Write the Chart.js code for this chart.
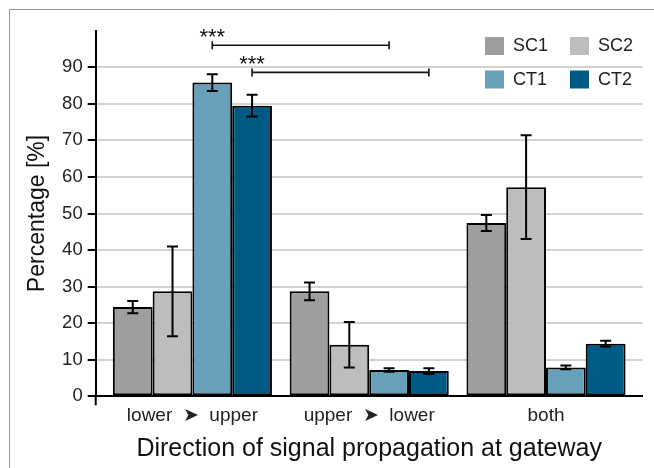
<!DOCTYPE html>
<html>
<head>
<meta charset="utf-8">
<script src="https://cdn.jsdelivr.net/npm/chart.js@4"></script>
<style>
  html, body { margin: 0; padding: 0; background: #fff; }
  #wrap { position: relative; width: 654px; height: 468px; }
</style>
</head>
<body>
<div id="wrap"><canvas id="chart" width="654" height="468"></canvas></div>
<script>
// Categories and series values (%)
const categories = ["lower  \u27A4  upper", "upper  \u27A4  lower", "both"];
const seriesNames = ["SC1", "SC2", "CT1", "CT2"];
const sc1 = [24.4, 28.7, 47.4];
const sc2 = [28.7, 14.1, 57.2];
const ct1 = [85.8, 7.2, 7.9];
const ct2 = [79.5, 6.9, 14.4];

// Error bars (half length, %)
const sc1Err = [1.7, 2.4, 2.2];
const sc2Err = [12.3, 6.2, 14.2];
const ct1Err = [2.3, 0.5, 0.5];
const ct2Err = [3.0, 0.8, 0.8];

// Y axis tick labels
const yTicks = [0, 10, 20, 30, 40, 50, 60, 70, 80, 90];

// Significance brackets: series, from category, to category, height (%)
const sigSeries = [2, 3];
const sigFrom = [0, 0];
const sigTo = [1, 1];
const sigHeights = [96.0, 88.6];
const sigLabels = ["***", "***"];

const colors = ["#9e9e9e", "#bdbdbd", "#67a0b8", "#005a86"];
const FONT = "'Liberation Sans', Arial, sans-serif";

const allValues = [sc1, sc2, ct1, ct2];
const allErrors = [sc1Err, sc2Err, ct1Err, ct2Err];

// Frame line around the figure, plus the short y axis stub below zero
const framePlugin = {
  id: "frame",
  beforeDraw(chart) {
    const ctx = chart.ctx;
    ctx.save();
    ctx.strokeStyle = "#9a9a9a";
    ctx.lineWidth = 1;
    ctx.beginPath();
    ctx.moveTo(9.5, 468);
    ctx.lineTo(9.5, 9.5);
    ctx.lineTo(654, 9.5);
    ctx.stroke();
    ctx.restore();
  },
  afterDraw(chart) {
    const ctx = chart.ctx;
    const a = chart.chartArea;
    ctx.save();
    ctx.strokeStyle = "#000";
    ctx.lineWidth = 2;
    ctx.beginPath();
    ctx.moveTo(a.left, a.bottom);
    ctx.lineTo(a.left, a.bottom + 9);
    ctx.stroke();
    ctx.restore();
  }
};

// Error bars
const errorBarPlugin = {
  id: "errorBars",
  afterDatasetsDraw(chart) {
    const ctx = chart.ctx;
    const y = chart.scales.y;
    ctx.save();
    ctx.strokeStyle = "#000";
    ctx.lineWidth = 2;
    chart.data.datasets.forEach((ds, i) => {
      const meta = chart.getDatasetMeta(i);
      meta.data.forEach((bar, j) => {
        const v = allValues[i][j];
        const e = allErrors[i][j];
        const top = y.getPixelForValue(v + e);
        const bot = y.getPixelForValue(v - e);
        ctx.beginPath();
        ctx.moveTo(bar.x, top);
        ctx.lineTo(bar.x, bot);
        ctx.moveTo(bar.x - 5.5, top);
        ctx.lineTo(bar.x + 5.5, top);
        ctx.moveTo(bar.x - 5.5, bot);
        ctx.lineTo(bar.x + 5.5, bot);
        ctx.stroke();
      });
    });
    ctx.restore();
  }
};

// Significance brackets
const sigPlugin = {
  id: "significance",
  afterDatasetsDraw(chart) {
    const ctx = chart.ctx;
    const y = chart.scales.y;
    ctx.save();
    ctx.strokeStyle = "#111";
    ctx.fillStyle = "#111";
    ctx.lineWidth = 1.6;
    sigSeries.forEach((s, k) => {
      const meta = chart.getDatasetMeta(s);
      const x1 = meta.data[sigFrom[k]].x;
      const x2 = meta.data[sigTo[k]].x;
      const py = y.getPixelForValue(sigHeights[k]);
      ctx.beginPath();
      ctx.moveTo(x1, py);
      ctx.lineTo(x2, py);
      ctx.moveTo(x1, py - 4);
      ctx.lineTo(x1, py + 4);
      ctx.moveTo(x2, py - 4);
      ctx.lineTo(x2, py + 4);
      ctx.stroke();
      ctx.font = "22px " + FONT;
      ctx.textAlign = "center";
      ctx.textBaseline = "alphabetic";
      ctx.fillText(sigLabels[k], x1, py - 1.5);
    });
    ctx.restore();
  }
};

// Legend in a 2x2 grid at top right
const legendPlugin = {
  id: "gridLegend",
  afterDraw(chart) {
    const ctx = chart.ctx;
    const colX = [485, 570];
    const rowY = [37, 70.5];
    ctx.save();
    ctx.font = "18px " + FONT;
    ctx.textBaseline = "middle";
    ctx.textAlign = "left";
    chart.data.datasets.forEach((ds, i) => {
      const x = colX[i % 2];
      const yy = rowY[Math.floor(i / 2)];
      ctx.fillStyle = ds.backgroundColor;
      ctx.fillRect(x, yy, 19, 18);
      ctx.fillStyle = "#222";
      ctx.fillText(ds.label, x + 28, yy + 9.5);
    });
    ctx.restore();
  }
};

const datasets = seriesNames.map((name, i) => ({
  label: name,
  data: allValues[i].map((v, j) => ({ x: j, y: v })),
  backgroundColor: colors[i],
  borderColor: "#000",
  borderWidth: 2,
  borderSkipped: false,
  categoryPercentage: 0.9,
  barPercentage: 1.0
}));

new Chart(document.getElementById("chart"), {
  type: "bar",
  data: { datasets },
  options: {
    responsive: false,
    animation: false,
    layout: { padding: { left: 0, top: 30.7, right: 11.3, bottom: 0 } },
    plugins: {
      legend: { display: false },
      tooltip: { enabled: false }
    },
    scales: {
      x: {
        type: "linear",
        offset: false,
        min: -0.547,
        max: 2.547,
        afterBuildTicks: (scale) => {
          scale.ticks = categories.map((c, i) => ({ value: i }));
        },
        afterFit: (scale) => { scale.height = 71.7; },
        grid: { display: false, drawTicks: false, offset: false },
        border: { display: true, color: "#000", width: 2 },
        ticks: {
          padding: 8,
          color: "#222",
          font: { family: FONT, size: 19 },
          maxRotation: 0,
          autoSkip: false,
          callback: (v) => categories[v]
        },
        title: {
          display: true,
          text: "Direction of signal propagation at gateway",
          color: "#111",
          font: { family: FONT, size: 25 },
          padding: { top: 0, bottom: 3.5 }
        }
      },
      y: {
        min: 0,
        max: 100,
        afterBuildTicks: (scale) => {
          scale.ticks = yTicks.map(v => ({ value: v }));
        },
        afterFit: (scale) => { scale.width = 95.7; },
        grid: {
          color: "#d2d2d2",
          lineWidth: 2,
          tickColor: "#000",
          tickLength: 8,
          tickWidth: 2
        },
        border: { display: true, color: "#000", width: 2 },
        ticks: {
          padding: 5,
          color: "#222",
          font: { family: FONT, size: 18.5 }
        },
        title: {
          display: true,
          text: "Percentage [%]",
          color: "#111",
          font: { family: FONT, size: 23 },
          padding: { top: 24, bottom: 0 }
        }
      }
    }
  },
  plugins: [framePlugin, errorBarPlugin, sigPlugin, legendPlugin]
});
</script>
</body>
</html>
